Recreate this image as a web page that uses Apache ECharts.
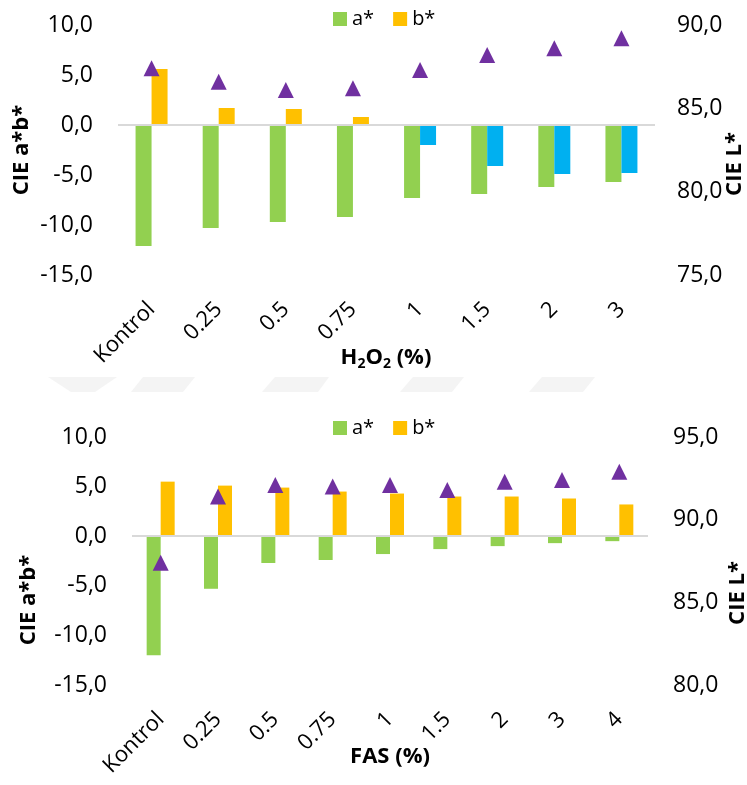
<!DOCTYPE html>
<html>
<head>
<meta charset="utf-8">
<script src="https://cdn.jsdelivr.net/npm/echarts@6/dist/echarts.min.js"></script>
<style>
  html, body { margin: 0; padding: 0; background: #fff; }
  #chart { width: 747px; height: 785px; }
</style>
</head>
<body>
<div id="chart"></div>
<script>
// H2O2 treatment: colour coordinates
const categoriesH2O2 = ['Kontrol', '0.25', '0.5', '0.75', '1', '1.5', '2', '3'];
const aH2O2 = [-12.1, -10.3, -9.7, -9.2, -7.3, -6.9, -6.2, -5.7];
const bH2O2 = [5.6, 1.7, 1.6, 0.8, -2.0, -4.1, -4.9, -4.8];
const lH2O2 = [87.4, 86.6, 86.1, 86.2, 87.3, 88.2, 88.6, 89.2];

// FAS treatment: colour coordinates
const categoriesFAS = ['Kontrol', '0.25', '0.5', '0.75', '1', '1.5', '2', '3', '4'];
const aFAS = [-12.0, -5.3, -2.7, -2.4, -1.8, -1.3, -1.0, -0.7, -0.5];
const bFAS = [5.5, 5.1, 4.9, 4.5, 4.3, 4.0, 4.0, 3.8, 3.2];
const lFAS = [87.4, 91.4, 92.1, 92.0, 92.1, 91.8, 92.3, 92.4, 92.9];

// Axis ranges
const abRange = { min: -15, max: 10, interval: 5 };
const lRangeH2O2 = { min: 75, max: 90, interval: 5 };
const lRangeFAS = { min: 80, max: 95, interval: 5 };

const FONT = '"Open Sans", "Liberation Sans", sans-serif';
const GREEN = '#92D050', ORANGE = '#FFC000', BLUE = '#00B0F0', PURPLE = '#7030A0';

const fmt = v => v.toFixed(1).replace('.', ',');

function bData(values) {
  // negative b* values are shown in blue
  return values.map(v => v < 0 ? { value: v, itemStyle: { color: BLUE } } : v);
}

function xAxis(gridIndex, cats) {
  return {
    type: 'category', gridIndex, data: cats,
    axisLine: { show: false, onZero: false }, axisTick: { show: false },
    axisLabel: { rotate: 45, interval: 0, margin: 31, fontSize: 22, fontFamily: FONT, color: '#000' }
  };
}

function yAxis(gridIndex, range, position, margin) {
  return {
    type: 'value', gridIndex, position, min: range.min, max: range.max, interval: range.interval,
    axisLine: { show: false }, axisTick: { show: false }, splitLine: { show: false },
    axisLabel: { formatter: fmt, fontSize: 23, fontFamily: FONT, color: '#000', margin }
  };
}

function zeroLine() {
  return {
    silent: true, symbol: 'none', label: { show: false },
    lineStyle: { color: '#D9D9D9', width: 2, type: 'solid' },
    emphasis: { disabled: true },
    data: [{ yAxis: 0 }]
  };
}

function seriesFor(gi, aVals, bVals, lVals, barWidth) {
  return [
    { name: 'a*', type: 'bar', xAxisIndex: gi, yAxisIndex: gi * 2, data: aVals,
      barWidth, barGap: '0%', itemStyle: { color: GREEN }, markLine: zeroLine() },
    { name: 'b*', type: 'bar', xAxisIndex: gi, yAxisIndex: gi * 2, data: bData(bVals),
      barWidth, barGap: '0%', itemStyle: { color: ORANGE } },
    { name: 'L*', type: 'scatter', xAxisIndex: gi, yAxisIndex: gi * 2 + 1, data: lVals,
      symbol: 'triangle', symbolSize: 16, itemStyle: { color: PURPLE, opacity: 1 }, z: 5 }
  ];
}

function vTitle(x, y, text) {
  return {
    type: 'text', x, y, rotation: Math.PI / 2, silent: true,
    style: { text, fontSize: 22, fontWeight: 'bold', fontFamily: FONT, fill: '#000',
             align: 'center', verticalAlign: 'middle', textAlign: 'center', textVerticalAlign: 'middle' }
  };
}

function legend(top) {
  return {
    data: ['a*', 'b*'], left: 328, top, itemWidth: 14, itemHeight: 14, itemGap: 19,
    icon: 'rect', selectedMode: false,
    textStyle: { fontSize: 20, fontFamily: FONT, color: '#000' }
  };
}

// faint band of background ornaments between the two panels
const ornaments = [
  [[48, 377], [117, 377], [95, 392], [71, 392]],
  [[143, 377], [195, 377], [183, 392], [131, 392]],
  [[275, 377], [329, 377], [318, 392], [262, 392]],
  [[413, 377], [464, 377], [452, 392], [400, 392]],
  [[542, 377], [595, 377], [583, 392], [529, 392]]
].map(points => ({ type: 'polygon', silent: true, z: -10, shape: { points }, style: { fill: '#F4F4F4' } }));

const subTitle = {
  type: 'text', x: 386, y: 358, silent: true,
  style: {
    text: '{n|H}{s|2}{n|O}{s|2}{n| (%)}',
    align: 'center', verticalAlign: 'middle', textAlign: 'center', textVerticalAlign: 'middle',
    rich: {
      n: { fontSize: 22, fontWeight: 'bold', fontFamily: FONT, fill: '#000', lineHeight: 26, verticalAlign: 'middle' },
      s: { fontSize: 14, fontWeight: 'bold', fontFamily: FONT, fill: '#000', lineHeight: 14, verticalAlign: 'bottom' }
    }
  }
};

const fasTitle = {
  type: 'text', x: 390, y: 757, silent: true,
  style: { text: 'FAS (%)', fontSize: 22, fontWeight: 'bold', fontFamily: FONT, fill: '#000',
           align: 'center', verticalAlign: 'middle', textAlign: 'center', textVerticalAlign: 'middle' }
};

const chart = echarts.init(document.getElementById('chart'), null, { renderer: 'canvas' });
chart.setOption({
  animation: false,
  backgroundColor: '#fff',
  legend: [legend(4), legend(413)],
  grid: [
    { left: 118, top: 25, width: 537, height: 250 },
    { left: 132, top: 437, width: 516, height: 248 }
  ],
  xAxis: [xAxis(0, categoriesH2O2), xAxis(1, categoriesFAS)],
  yAxis: [
    yAxis(0, abRange, 'left', 25),
    yAxis(0, lRangeH2O2, 'right', 22),
    yAxis(1, abRange, 'left', 25),
    yAxis(1, lRangeFAS, 'right', 25)
  ],
  series: [
    ...seriesFor(0, aH2O2, bH2O2, lH2O2, 16),
    ...seriesFor(1, aFAS, bFAS, lFAS, 14)
  ],
  graphic: [
    ...ornaments,
    vTitle(22, 150, 'CIE a*b*'),
    vTitle(735, 164, 'CIE L*'),
    vTitle(29, 600, 'CIE a*b*'),
    vTitle(738, 593, 'CIE L*'),
    subTitle,
    fasTitle
  ]
});
</script>
</body>
</html>
